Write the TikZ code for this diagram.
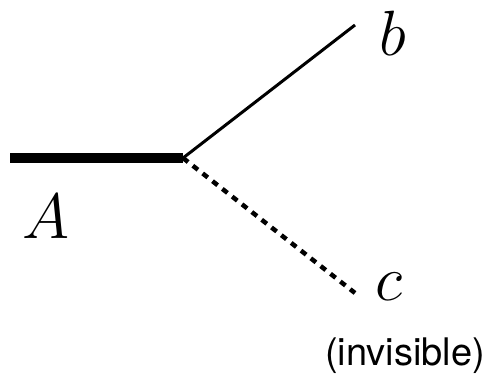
\RequirePackage{fix-cm}
\documentclass[tikz,border=0pt]{standalone}
\usepackage{fontspec}
\setsansfont{TeX Gyre Heros}
\tikzset{
  pix/.style={x=1pt,y=-1pt},
  lbl/.style={inner sep=0pt,anchor=base,font=\fontsize{64}{64}\selectfont},
  note/.style={inner sep=0pt,anchor=base,font=\fontsize{38}{38}\selectfont\sffamily},
  bar/.style={line width=10.5pt},
  seen/.style={line width=3pt},
  unseen/.style={line width=4.5pt,dash pattern=on 6.5pt off 6pt}
}

\begin{document}
\begin{tikzpicture}[pix]
    \useasboundingbox (0,0) rectangle (486,383);
    % branch point and line ends
    \coordinate (s) at (10,158);
    \coordinate (j) at (183,158);
    \coordinate (bend) at (355,25);
    \coordinate (cend) at (355,293);
    \draw[bar] (s) -- (j);
    \draw[seen] (j) -- (bend);
    \draw[unseen] (j) -- (cend);
    % labels
    \node[lbl] (la) at (46,238) {$A$};
    \node[lbl] (lb) at (393,55) {$b$};
    \node[lbl] (lc) at (389,300) {$c$};
    \node[note] (inv) at (405,365) {(invisible)};
\end{tikzpicture}
\end{document}
